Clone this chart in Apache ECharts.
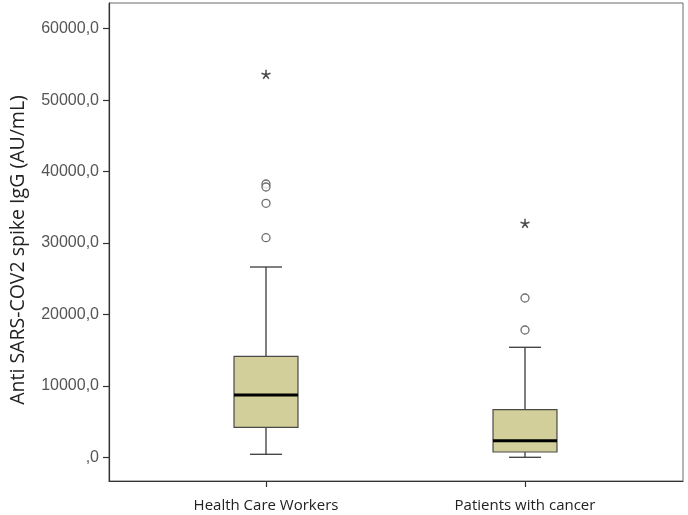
<!DOCTYPE html>
<html>
<head>
<meta charset="utf-8">
<script src="https://cdn.jsdelivr.net/npm/echarts@6/dist/echarts.min.js"></script>
<style>
html,body{margin:0;padding:0;background:#fff;}
#chart{width:688px;height:515px;}
</style>
</head>
<body>
<div id="chart"></div>
<script>
// ---- data ----
const categories = ['Health Care Workers', 'Patients with cancer'];
const whiskerLow = [420, 0];
const q1 = [4200, 740];
const median = [8720, 2330];
const q3 = [14140, 6670];
const whiskerHigh = [26640, 15400];
const circleOutliers = [[0, 38260], [0, 37840], [0, 35560], [0, 30740], [1, 22300], [1, 17820]];
const extremeOutliers = [[0, 53620], [1, 32760]];
const yTicks = [0, 10000, 20000, 30000, 40000, 50000, 60000];
const yMin = -3320, yMax = 63600;

const boxData = categories.map((c, i) => [i, whiskerLow[i], q1[i], median[i], q3[i], whiskerHigh[i]]);

const starPath = 'path://M0 0 L0 -5 M0 0 L4.76 -1.55 M0 0 L2.94 4.05 M0 0 L-2.94 4.05 M0 0 L-4.76 -1.55';

const chart = echarts.init(document.getElementById('chart'), null, {renderer: 'canvas'});
chart.setOption({
  backgroundColor: '#fff',
  animation: false,
  grid: [
    {left: 107, right: 5, top: 3, bottom: 34, show: true, borderColor: '#6a6a6a', borderWidth: 1, backgroundColor: 'transparent'},
    {left: 136.5, width: 518, top: 3, bottom: 34}
  ],
  xAxis: [
    {gridIndex: 0, type: 'value', min: 0, max: 1, axisLine: {show: true, onZero: false, lineStyle: {color: '#333', width: 1.2}},
     axisTick: {show: false}, axisLabel: {show: false}, splitLine: {show: false}},
    {gridIndex: 1, type: 'category', data: categories, boundaryGap: true,
     axisLine: {show: false, onZero: false},
     axisTick: {show: true, alignWithLabel: true, length: 6, lineStyle: {color: '#333', width: 1.2}},
     axisLabel: {margin: 17, fontFamily: 'Open Sans', fontSize: 15, color: '#222'},
     splitLine: {show: false}}
  ],
  yAxis: [
    {gridIndex: 0, type: 'value', min: yMin, max: yMax,
     name: 'Anti SARS-COV2 spike IgG (AU/mL)', nameLocation: 'middle', nameRotate: 90, nameGap: 81,
     nameTextStyle: {fontFamily: 'Open Sans', fontSize: 19.5, color: '#222', padding: [0, 16, 0, 0]},
     axisLine: {show: true, lineStyle: {color: '#333', width: 1.2}},
     axisTick: {show: true, length: 6, customValues: yTicks, lineStyle: {color: '#333', width: 1.2}},
     axisLabel: {margin: 10, customValues: yTicks, fontFamily: 'Liberation Sans', fontSize: 16, color: '#555',
       formatter: v => (v === 0 ? ',0' : v + ',0')},
     splitLine: {show: false}},
    {gridIndex: 1, type: 'value', min: yMin, max: yMax, show: false, splitLine: {show: false}}
  ],
  series: [
    {
      type: 'custom', xAxisIndex: 1, yAxisIndex: 1,
      data: boxData,
      encode: {x: 0, y: [1, 2, 3, 4, 5]},
      renderItem: function (params, api) {
        const i = api.value(0);
        const band = api.size([1, 0])[0];
        const bw = band * 0.247;
        const cw = bw / 2;
        const pLow = api.coord([i, api.value(1)]);
        const pQ1 = api.coord([i, api.value(2)]);
        const pMed = api.coord([i, api.value(3)]);
        const pQ3 = api.coord([i, api.value(4)]);
        const pHigh = api.coord([i, api.value(5)]);
        const x = pMed[0];
        const stroke = {stroke: '#3a3a3a', lineWidth: 1.3};
        return {
          type: 'group',
          children: [
            {type: 'line', shape: {x1: x, y1: pLow[1], x2: x, y2: pQ1[1]}, style: stroke},
            {type: 'line', shape: {x1: x, y1: pQ3[1], x2: x, y2: pHigh[1]}, style: stroke},
            {type: 'line', shape: {x1: x - cw / 2, y1: pLow[1], x2: x + cw / 2, y2: pLow[1]}, style: stroke},
            {type: 'line', shape: {x1: x - cw / 2, y1: pHigh[1], x2: x + cw / 2, y2: pHigh[1]}, style: stroke},
            {type: 'rect', shape: {x: x - bw / 2, y: pQ3[1], width: bw, height: pQ1[1] - pQ3[1]},
             style: {fill: '#d3cf9a', stroke: '#4a4a4a', lineWidth: 1.2}},
            {type: 'line', shape: {x1: x - bw / 2, y1: pMed[1], x2: x + bw / 2, y2: pMed[1]},
             style: {stroke: '#000', lineWidth: 3}}
          ]
        };
      }
    },
    {
      type: 'scatter', xAxisIndex: 1, yAxisIndex: 1, data: circleOutliers,
      symbol: 'circle', symbolSize: 8,
      itemStyle: {color: '#fff', borderColor: '#4a4a4a', borderWidth: 1.3}
    },
    {
      type: 'scatter', xAxisIndex: 1, yAxisIndex: 1, data: extremeOutliers,
      symbol: starPath, symbolSize: 9,
      itemStyle: {color: 'none', borderColor: '#222', borderWidth: 1.5}
    }
  ]
});
</script>
</body>
</html>
